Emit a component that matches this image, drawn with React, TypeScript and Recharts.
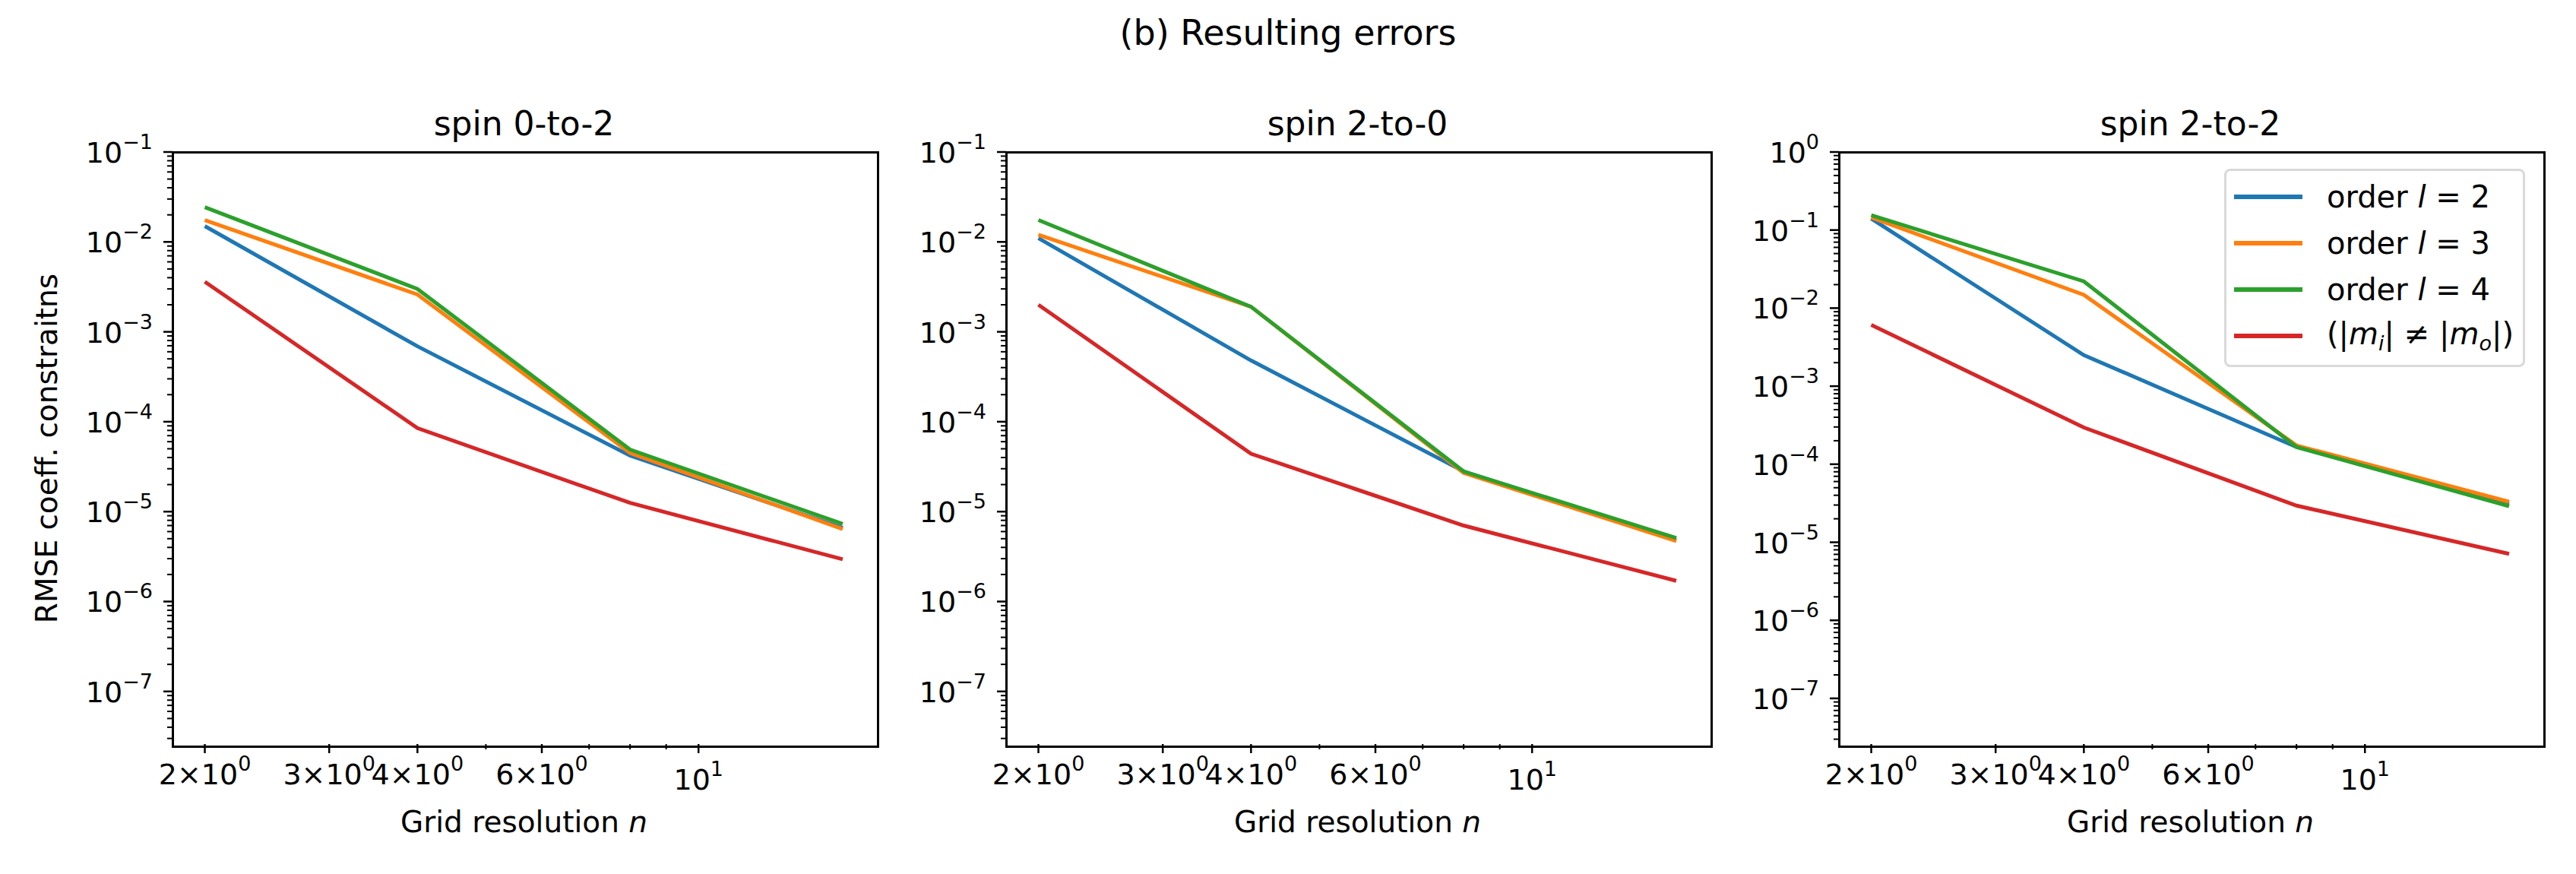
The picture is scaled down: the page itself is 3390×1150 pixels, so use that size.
import React from "react";
import { LineChart, Line, XAxis, YAxis } from "recharts";

const nValues = [2, 4, 8, 16];
const panelTitles = ["spin 0-to-2", "spin 2-to-0", "spin 2-to-2"];
const seriesNames = ["order l = 2", "order l = 3", "order l = 4", "mismatch"];
const colors = ["#1f77b4", "#ff7f0e", "#2ca02c", "#d62728"];

// per panel: [l=2, l=3, l=4, |mi|!=|mo|]
const spin02 = [
  [1.5e-2, 6.9e-4, 4.2e-5, 6.6e-6],
  [1.75e-2, 2.6e-3, 4.5e-5, 6.4e-6],
  [2.43e-2, 3.0e-3, 4.9e-5, 7.3e-6],
  [3.6e-3, 8.5e-5, 1.25e-5, 2.95e-6],
];
const spin20 = [
  [1.1e-2, 4.8e-4, 2.8e-5, 4.8e-6],
  [1.2e-2, 1.9e-3, 2.7e-5, 4.7e-6],
  [1.75e-2, 1.9e-3, 2.8e-5, 5.1e-6],
  [2.0e-3, 4.4e-5, 7.0e-6, 1.7e-6],
];
const spin22 = [
  [1.4e-1, 2.5e-3, 1.66e-4, 3.1e-5],
  [1.45e-1, 1.48e-2, 1.74e-4, 3.3e-5],
  [1.55e-1, 2.2e-2, 1.66e-4, 2.9e-5],
  [6.1e-3, 2.95e-4, 2.95e-5, 7.1e-6],
];
const panelData = [spin02, spin20, spin22];
const yTopDecade = [-1, -1, 0];

const xMajor = [2, 3, 4, 6, 10];
const xMinor = [5, 7, 8, 9];
const xLabels: Record<number, [string, string]> = {
  2: ["2\u00d710", "0"],
  3: ["3\u00d710", "0"],
  4: ["4\u00d710", "0"],
  6: ["6\u00d710", "0"],
  10: ["10", "1"],
};

const FONT = "DejaVu Sans, sans-serif";
const panelLefts = [227, 1324, 2420];
const W = 925;
const TOP = 200;
const H = 779;
const YW = 200;
const XH = 150;
const MT = 40;
const Y_MIN = 2.6e-8;
const TICK_FS = 38;

function yTicksFor(top: number) {
  const t: number[] = [];
  for (let d = -8; d <= top; d++) {
    for (let m = 1; m <= 9; m++) {
      const v = m * Math.pow(10, d);
      if (v >= Y_MIN && v <= Math.pow(10, top) * 1.0001) t.push(v);
    }
  }
  return t;
}

const YTick = (props: any) => {
  const { x, y, payload } = props;
  const v = payload.value;
  const e = Math.round(Math.log10(v));
  const major = Math.abs(v / Math.pow(10, e) - 1) < 1e-6;
  return (
    <g>
      <line x1={x} x2={x - (major ? 12 : 7)} y1={y} y2={y} stroke="#000" strokeWidth={major ? 2.5 : 2} />
      {major && (
        <text x={x - 26} y={y + 14} textAnchor="end" fontSize={TICK_FS} fontFamily={FONT} fill="#000">
          10
          <tspan dy={-18} fontSize={27}>{e < 0 ? "\u2212" + -e : String(e)}</tspan>
        </text>
      )}
    </g>
  );
};

const XTick = (props: any) => {
  const { x, y, payload } = props;
  const v = payload.value;
  const lab = xLabels[v];
  return (
    <g>
      <line x1={x} x2={x} y1={y} y2={y + (lab ? 12 : 7)} stroke="#000" strokeWidth={lab ? 2.5 : 2} />
      {lab && (
        <text x={x} y={y + (v === 10 ? 60 : 53)} textAnchor="middle" fontSize={TICK_FS} fontFamily={FONT} fill="#000">
          {lab[0]}
          <tspan dy={-18} fontSize={27}>{lab[1]}</tspan>
        </text>
      )}
    </g>
  );
};

function Panel({ idx }: { idx: number }) {
  const data = nValues.map((n, i) => {
    const row: any = { n };
    panelData[idx].forEach((s, k) => (row["s" + k] = s[i]));
    return row;
  });
  const top = yTopDecade[idx];
  const left = panelLefts[idx];
  return (
    <>
      <div style={{ position: "absolute", left: left - YW, top: TOP - MT }}>
        <LineChart width={YW + W + 10} height={MT + H + XH} data={data} margin={{ top: MT, right: 10, left: 0, bottom: 0 }}>
          <XAxis
            dataKey="n"
            type="number"
            scale="log"
            domain={[1.8, 17.8]}
            allowDataOverflow
            ticks={[...xMajor, ...xMinor]}
            interval={0}
            tick={<XTick />}
            tickLine={false}
            tickSize={0}
            tickMargin={0}
            axisLine={false}
            height={XH}
          />
          <YAxis
            type="number"
            scale="log"
            domain={[Y_MIN, Math.pow(10, top)]}
            allowDataOverflow
            ticks={yTicksFor(top)}
            interval={0}
            tick={<YTick />}
            tickLine={false}
            tickSize={0}
            tickMargin={0}
            axisLine={false}
            width={YW}
          />
          {colors.map((c, k) => (
            <Line key={k} dataKey={"s" + k} stroke={c} strokeWidth={5} dot={false} isAnimationActive={false} />
          ))}
        </LineChart>
      </div>
      <div
        style={{
          position: "absolute",
          left: left - 1.5,
          top: TOP - 1.5,
          width: W,
          height: H,
          border: "3px solid #000",
          pointerEvents: "none",
        }}
      />
      <div
        style={{
          position: "absolute",
          left,
          width: W,
          top: 163 - 22,
          lineHeight: "44px",
          textAlign: "center",
          fontSize: 44,
          fontFamily: FONT,
        }}
      >
        {panelTitles[idx]}
      </div>
      <div
        style={{
          position: "absolute",
          left,
          width: W,
          top: 1082 - 20,
          lineHeight: "40px",
          textAlign: "center",
          fontSize: 39,
          fontFamily: FONT,
        }}
      >
        Grid resolution <i>n</i>
      </div>
    </>
  );
}

function Legend() {
  const sub = { fontSize: 27, verticalAlign: "-8px" } as const;
  const labels = [
    <>order <i>l</i> = 2</>,
    <>order <i>l</i> = 3</>,
    <>order <i>l</i> = 4</>,
    <>(|<i>m</i><i style={sub}>i</i>| ≠ |<i>m</i><i style={sub}>o</i>|)</>,
  ];
  return (
    <div
      style={{
        position: "absolute",
        left: 2927,
        top: 222,
        width: 396,
        height: 261,
        border: "3px solid #d9d9d9",
        borderRadius: 8,
        background: "rgba(255,255,255,0.8)",
        fontFamily: FONT,
        fontSize: 40,
        boxSizing: "border-box",
        paddingTop: 3,
      }}
    >
      {labels.map((l, k) => (
        <div key={seriesNames[k]} style={{ display: "flex", alignItems: "center", height: 61, paddingLeft: 10 }}>
          <div style={{ width: 90, height: 6, background: colors[k], marginRight: 32 }} />
          <span style={{ whiteSpace: "nowrap" }}>{l}</span>
        </div>
      ))}
    </div>
  );
}

export default function App() {
  return (
    <div style={{ position: "absolute", left: 0, top: 0, width: 3390, height: 1150, background: "#fff", overflow: "hidden" }}>
      <div
        style={{
          position: "absolute",
          left: 0,
          width: 3390,
          top: 43 - 24,
          lineHeight: "48px",
          textAlign: "center",
          fontSize: 46,
          fontFamily: FONT,
        }}
      >
        (b) Resulting errors
      </div>
      <div
        style={{
          position: "absolute",
          left: 62 - 300,
          top: TOP + H / 2 - 20,
          width: 600,
          lineHeight: "40px",
          textAlign: "center",
          fontSize: 39,
          fontFamily: FONT,
          transform: "rotate(-90deg)",
        }}
      >
        RMSE coeff. constraitns
      </div>
      {[0, 1, 2].map((i) => (
        <Panel key={i} idx={i} />
      ))}
      <Legend />
    </div>
  );
}
